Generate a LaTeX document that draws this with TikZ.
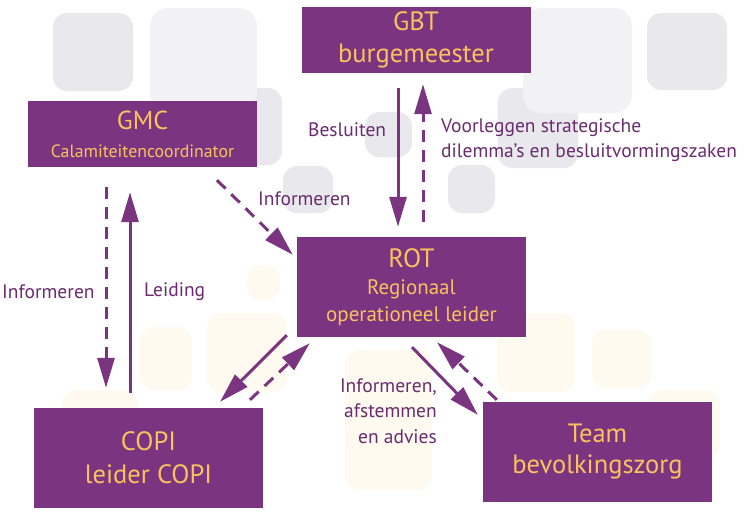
\documentclass[tikz,border=0pt]{standalone}
\usepackage{fontspec}
\setmainfont{PT Sans}
\usetikzlibrary{arrows.meta,calc}

\definecolor{rotpurple}{HTML}{7B3580}
\definecolor{rotgold}{HTML}{FBC15E}
\definecolor{labelpurple}{HTML}{6A2C6F}
\definecolor{bggrey}{HTML}{E9E9ED}
\definecolor{bglight}{HTML}{F2F2F5}
\definecolor{bgcream}{HTML}{FFFAF0}

\begin{document}
\begin{tikzpicture}[x=1pt, y=-1pt,
	box/.style={fill=rotpurple, text=rotgold, minimum width=229pt, align=center, inner sep=0pt},
	link/.style={line width=3pt, color=rotpurple, -{Triangle[length=30pt,width=17pt]}},
	infolink/.style={link, dash pattern=on 12pt off 8pt},
	lbl/.style={text=labelpurple, font=\fontsize{19.5}{25.5}\selectfont, inner sep=0pt}]
	\useasboundingbox (0,0) rectangle (750,515);
	% achtergrond
	\foreach \xa/\ya/\xb/\yb in {53/13/133/91, 203/88/282/165, 283/166/333/213, 365/112/412/157, 647/13/727/90, 498/88/578/168, 448/165/495/213} {
		\fill[bggrey, rounded corners=14pt] (\xa,\ya) rectangle (\xb,\yb);
	}
	\foreach \xa/\ya/\xb/\yb in {150/8/257/110, 523/8/632/113} {
		\fill[bglight, rounded corners=18pt] (\xa,\ya) rectangle (\xb,\yb);
	}
	\foreach \xa/\ya/\xb/\yb in {247/265/280/300, 207/313/286/392, 140/327/192/390, 62/390/138/460, 497/313/575/392, 592/330/652/388, 648/390/720/460, 345/350/432/490} {
		\fill[bgcream, rounded corners=14pt] (\xa,\ya) rectangle (\xb,\yb);
	}
	% blokken
	\node[box, minimum height=66pt, font=\fontsize{26.5}{32}\selectfont] (GBT) at (416,40) {GBT\\burgemeester};
	\node[box, minimum height=66pt, font=\fontsize{26}{28}\selectfont] (GMC) at (142.5,134) {GMC\\{\fontsize{17.8}{20}\selectfont Calamiteitencoordinator}};
	\node[box, minimum height=100pt, font=\fontsize{26.5}{27}\selectfont] (ROT) at (411.5,287) {ROT\\{\fontsize{21}{25}\selectfont Regionaal}\\{\fontsize{21}{25}\selectfont operationeel leider}};
	\node[box, minimum height=100pt, font=\fontsize{26.5}{33}\selectfont] (COPI) at (148.5,458) {COPI\\leider COPI};
	\node[box, minimum height=100pt, font=\fontsize{26.5}{31}\selectfont] (TBZ) at (597.5,452) {Team\\bevolkingszorg};
	% pijlen
	\draw[link] ($(GBT.south)+(-18,15)$) -- ($(ROT.north)+(-13.5,-10)$);
	\draw[infolink] ($(ROT.north)+(11.5,-15)$) -- ($(GBT.south)+(7,11)$);
	\draw[infolink] ($(GMC.south)+(74.5,13)$) -- ($(ROT.north west)+(-4,18)$);
	\draw[infolink] ($(GMC.south)+(-36.5,20)$) -- ($(COPI.north)+(-42.5,-20)$);
	\draw[link] ($(COPI.north)+(-18.5,-15)$) -- ($(GMC.south)+(-12.5,25)$);
	\draw[link] ($(ROT.south west)+(-10,-2)$) -- ($(COPI.north)+(71.5,-6)$);
	\draw[infolink] ($(COPI.north)+(101.5,-8)$) -- ($(ROT.south west)+(13,6)$);
	\draw[link] ($(ROT.south)+(0.5,10)$) -- ($(TBZ.north west)+(-5,13)$);
	\draw[infolink] ($(TBZ.north west)+(14,-2)$) -- ($(ROT.south)+(25.5,5)$);
	% teksten
	\node[lbl, anchor=west] (besluiten) at (308,130) {Besluiten};
	\node[lbl, anchor=west, align=left] (voorleggen) at (441,140) {Voorleggen strategische\\dilemma’s en besluitvormingszaken};
	\node[lbl, anchor=west] (infrot) at (258,199) {Informeren};
	\node[lbl, anchor=west] (infcopi) at (2,292) {Informeren};
	\node[lbl, anchor=west] (leiding) at (144,292) {Leiding};
	\node[lbl, anchor=east, align=right] (afstemmen) at (437,411) {Informeren,\\afstemmen\\en advies};
\end{tikzpicture}
\end{document}
